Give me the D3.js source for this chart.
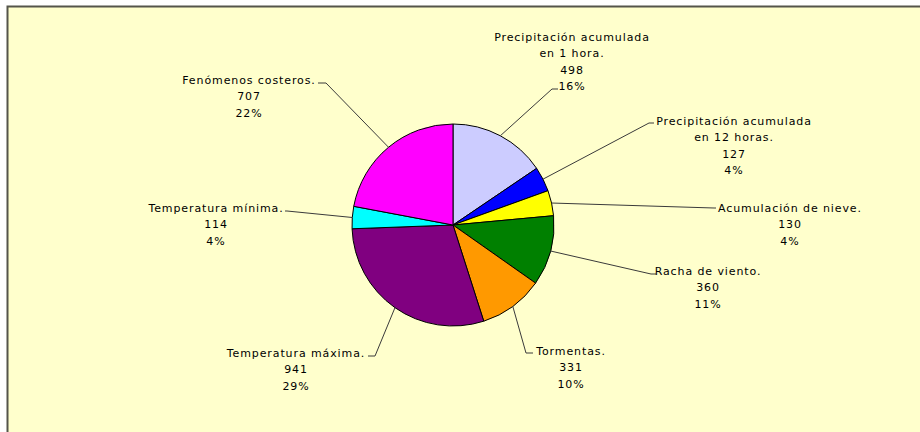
<!DOCTYPE html>
<html>
<head>
<meta charset="utf-8">
<script src="https://cdn.jsdelivr.net/npm/d3@7"></script>
<style>
  body { margin: 0; background: #fff; }
  svg text { font-family: "DejaVu Sans", Verdana, sans-serif; font-size: 11px; letter-spacing: 0.9px; fill: #000; }
</style>
</head>
<body>
<svg width="920" height="432"></svg>
<script>
// data
var categories = [
  ["Precipitación acumulada", "en 1 hora."],
  ["Precipitación acumulada", "en 12 horas."],
  ["Acumulación de nieve."],
  ["Racha de viento."],
  ["Tormentas."],
  ["Temperatura máxima."],
  ["Temperatura mínima."],
  ["Fenómenos costeros."]
];
var values = [498, 127, 130, 360, 331, 941, 114, 707];
var colors = ["#CCCCFF", "#0000FF", "#FFFF00", "#008000", "#FF9900", "#800080", "#00FFFF", "#FF00FF"];

// where each label sits (elbow of leader, end of short tick, text centre, first baseline)
var labelLayout = [
  {elbow: [552, 89], end: 558, cx: 572, y: 41},
  {elbow: [649, 123], end: 654, cx: 734, y: 125},
  {elbow: [714, 208], end: 716, cx: 790, y: 212},
  {elbow: [651, 274], end: 656, cx: 708, y: 275},
  {elbow: [526, 353], end: 533, cx: 571, y: 355},
  {elbow: [375, 356], end: 368, cx: 296, y: 357},
  {elbow: [287, 211], end: 285, cx: 216, y: 212},
  {elbow: [326, 83], end: 318, cx: 249, y: 84}
];

var svg = d3.select("svg"),
    width = +svg.attr("width"),
    height = +svg.attr("height");

// chart area
svg.append("rect").attr("x", 0).attr("y", 0).attr("width", width).attr("height", height).attr("fill", "#fff");
svg.append("rect").attr("x", 7).attr("y", 6).attr("width", width).attr("height", height).attr("fill", "#FFFFCC");
svg.append("path")
    .attr("d", "M7.5," + height + "V6.5H" + width)
    .attr("fill", "none").attr("stroke", "#55554a").attr("stroke-width", 2);

var cx = 453, cy = 225, r = 101;
var total = d3.sum(values);

var pie = d3.pie().sort(null).value(function(d) { return d; });
var arcs = pie(values);

var arc = d3.arc().innerRadius(0).outerRadius(r);
var edge = d3.arc().innerRadius(r).outerRadius(r);

var g = svg.append("g").attr("transform", "translate(" + cx + "," + cy + ")");

g.selectAll("path.slice")
    .data(arcs)
    .enter().append("path")
    .attr("class", "slice")
    .attr("d", arc)
    .attr("fill", function(d, i) { return colors[i]; })
    .attr("stroke", "#000")
    .attr("stroke-width", 1);

// leader lines
svg.append("g").selectAll("polyline")
    .data(arcs)
    .enter().append("polyline")
    .attr("fill", "none")
    .attr("stroke", "#3a3a3a")
    .attr("stroke-width", 1)
    .attr("points", function(d, i) {
      var p = edge.centroid(d);
      var L = labelLayout[i];
      return [[cx + p[0], cy + p[1]], L.elbow, [L.end, L.elbow[1]]].join(" ");
    });

// labels
var lab = svg.append("g").selectAll("text")
    .data(arcs)
    .enter().append("text")
    .attr("text-anchor", "middle");

lab.each(function(d, i) {
  var L = labelLayout[i];
  var lines = categories[i].concat([String(values[i]), Math.round(values[i] / total * 100) + "%"]);
  d3.select(this).selectAll("tspan")
      .data(lines)
      .enter().append("tspan")
      .attr("x", L.cx)
      .attr("y", function(t, k) { return L.y + k * 16.3; })
      .text(function(t) { return t; });
});
</script>
</body>
</html>
